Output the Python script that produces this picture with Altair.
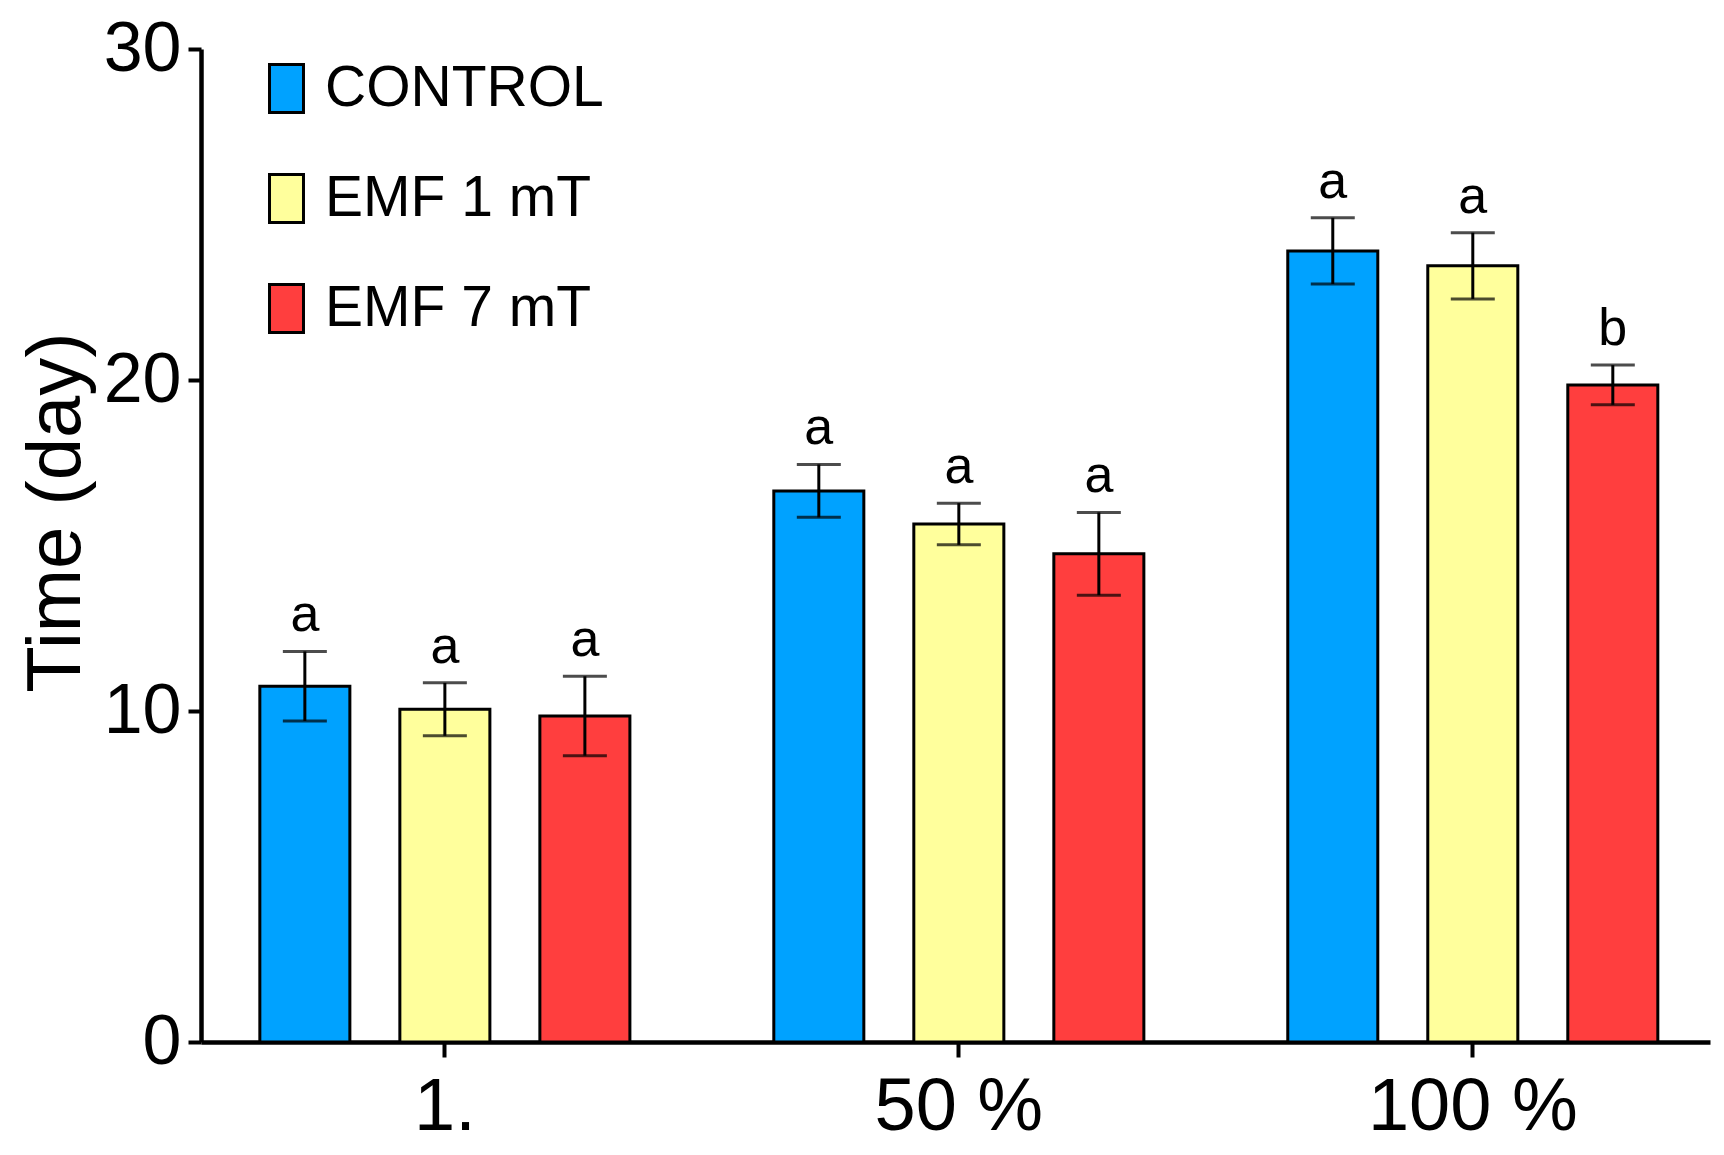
import altair as alt
import pandas as pd

groups = ["1.", "50 %", "100 %"]
treatments = ["CONTROL", "EMF 1 mT", "EMF 7 mT"]
colors = ["#00A2FF", "#FFFF9C", "#FF3E3E"]

mean_control = [10.75, 16.65, 23.9]
mean_emf1 = [10.05, 15.65, 23.45]
mean_emf7 = [9.85, 14.75, 19.85]

err_control = [1.05, 0.8, 1.0]
err_emf1 = [0.8, 0.63, 1.0]
err_emf7 = [1.2, 1.25, 0.6]

let_control = ["a", "a", "a"]
let_emf1 = ["a", "a", "a"]
let_emf7 = ["a", "a", "b"]

rows = []
for t, ms, es, ls in [
    ("CONTROL", mean_control, err_control, let_control),
    ("EMF 1 mT", mean_emf1, err_emf1, let_emf1),
    ("EMF 7 mT", mean_emf7, err_emf7, let_emf7),
]:
    for g, m, e, l in zip(groups, ms, es, ls):
        rows.append({"group": g, "treatment": t, "mean": m,
                     "lo": m - e, "hi": m + e, "letter": l})
df = pd.DataFrame(rows)

FONT = "Liberation Sans"

x_enc = alt.X("group:N", sort=groups,
              scale=alt.Scale(domain=groups, paddingInner=0.28, paddingOuter=0.108, align=0.53),
              axis=alt.Axis(title=None, labelAngle=0, labelFontSize=74, labelFont=FONT,
                            labelColor="black", labelPadding=14, tickSize=15,
                            tickWidth=4, tickColor="black", domainWidth=4.5,
                            domainColor="black", labelLimit=1000))
xo_enc = alt.XOffset("treatment:N", sort=treatments,
                     scale=alt.Scale(domain=treatments, paddingInner=0.357, paddingOuter=0))

base = alt.Chart(df)

bars = base.mark_bar(stroke="black", strokeWidth=3).encode(
    x=x_enc,
    xOffset=xo_enc,
    y=alt.Y("mean:Q", scale=alt.Scale(domain=[0, 30], nice=False),
            axis=alt.Axis(title="Time (day)", values=[0, 10, 20, 30], grid=False,
                          labelFontSize=70, labelFont=FONT, labelColor="black",
                          labelPadding=7, tickSize=13, tickWidth=4, tickColor="black",
                          domainWidth=4.5, domainColor="black",
                          titleFontSize=76, titleFont=FONT, titleFontWeight="normal",
                          titleColor="black", titlePadding=8, titleY=463)),
    fill=alt.Fill("treatment:N", sort=treatments,
                  scale=alt.Scale(domain=treatments, range=colors),
                  legend=alt.Legend(title=None, orient="none", legendX=57, legendY=11,
                                    symbolType="M-0.708,-1L0.708,-1L0.708,1L-0.708,1Z",
                                    symbolSize=2304, symbolStrokeColor="black",
                                    symbolStrokeWidth=3, labelFontSize=57,
                                    labelFont=FONT, labelColor="black",
                                    labelOffset=10, rowPadding=49, padding=0,
                                    labelLimit=600)),
)

rules = base.mark_rule(color="black", strokeWidth=3).encode(
    x=alt.X("group:N", sort=groups), xOffset=alt.XOffset("treatment:N", sort=treatments),
    y="lo:Q", y2="hi:Q")

caps_hi = base.mark_tick(color="black", thickness=3, size=44).encode(
    x=alt.X("group:N", sort=groups), xOffset=alt.XOffset("treatment:N", sort=treatments),
    y="hi:Q")
caps_lo = base.mark_tick(color="black", thickness=3, size=44).encode(
    x=alt.X("group:N", sort=groups), xOffset=alt.XOffset("treatment:N", sort=treatments),
    y="lo:Q")

letters = base.mark_text(font=FONT, fontSize=52, color="black", dy=-20,
                         baseline="alphabetic").encode(
    x=alt.X("group:N", sort=groups), xOffset=alt.XOffset("treatment:N", sort=treatments),
    y="hi:Q", text="letter:N")

chart = alt.layer(bars, rules, caps_hi, caps_lo, letters).properties(
    width=1509, height=993,
    background="white",
    autosize=alt.AutoSizeParams(type="none"),
    padding={"left": 193, "top": 41, "right": 2, "bottom": 102},
).configure_view(stroke=None)

chart.save("out.html", embed_options={"renderer": "svg", "actions": False})
